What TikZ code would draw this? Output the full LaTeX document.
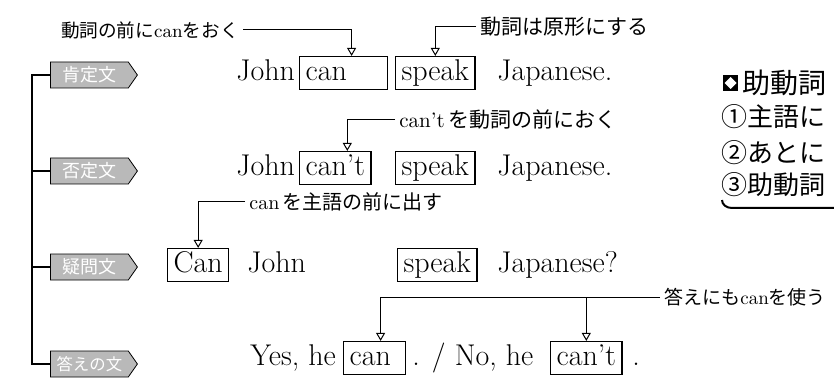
\documentclass[tikz,border=0pt]{standalone}
\usepackage{fontspec}
\newfontfamily\cjk{Noto Sans CJK JP}
\usetikzlibrary{arrows.meta,shapes.symbols}

\begin{document}
\begin{tikzpicture}[x=0.5pt, y=-0.5pt,
    caja/.style={draw, line width=0.6pt, anchor=west, inner xsep=3pt, inner ysep=1.5pt,
      text height=10.5pt, text depth=3pt, font=\fontsize{15}{18}\selectfont},
    palabra/.style={anchor=west, inner xsep=0pt, inner ysep=1.5pt,
      text height=10.5pt, text depth=3pt, font=\fontsize{15}{18}\selectfont},
    nota/.style={inner sep=2pt, font=\fontsize{10}{12}\selectfont},
    etiqueta/.style={signal, signal to=east, signal pointer angle=110, draw, fill=gray!55,
      text=white, anchor=west, minimum width=43.5pt, minimum height=13pt,
      inner xsep=2pt, inner ysep=0pt, font=\cjk\fontsize{9}{10}\selectfont},
    flecha/.style={-{Triangle[open, length=4pt, width=4.5pt]}, line width=0.5pt},
    panel/.style={anchor=west, inner sep=0pt, font=\cjk\fontsize{13}{15}\selectfont}]

    \useasboundingbox (0,0) rectangle (834,379);

    % Etiquetas de cada tipo de oracion
    \node[etiqueta] (afirm) at (50,75) {肯定文};
    \node[etiqueta] (neg) at (50,171) {否定文};
    \node[etiqueta] (preg) at (50,267) {疑問文};
    \node[etiqueta, font=\cjk\fontsize{8.2}{9}\selectfont] (resp) at (50,364) {答えの文};

    % Linea que une las etiquetas
    \coordinate (tronco) at (32,0);
    \draw[line width=0.6pt] (afirm.west) -- (afirm.west -| tronco) -- (resp.west -| tronco) -- (resp.west);
    \draw[line width=0.6pt] (neg.west) -- (neg.west -| tronco);
    \draw[line width=0.6pt] (preg.west) -- (preg.west -| tronco);

    % Oracion afirmativa
    \node[palabra] (john1) at (236,73) {John};
    \node[caja] (can1) at (299,73) {\makebox[38pt][l]{can}};
    \node[caja] (speak1) at (395,73) {speak};
    \node[palabra] (jap1) at (497,73) {Japanese.};

    % Oracion negativa
    \node[palabra] (john2) at (236,168) {John};
    \node[caja] (cant2) at (299,168) {can't};
    \node[caja] (speak2) at (395,168) {speak};
    \node[palabra] (jap2) at (497,168) {Japanese.};

    % Pregunta
    \node[caja] (can3) at (167,265) {Can};
    \node[palabra] (john3) at (247,265) {John};
    \node[caja] (speak3) at (397,265) {speak};
    \node[palabra] (jap3) at (497,265) {Japanese?};

    % Respuestas
    \node[palabra] (yes4) at (250,358) {Yes, he};
    \node[caja] (can4) at (343,358) {\makebox[25pt][l]{can}};
    \node[palabra] (no4) at (412,358) {. / No, he};
    \node[caja] (cant4) at (550,358) {can't};
    \node[palabra] (punto4) at (632,358) {.};

    % Notas con flechas
    \node[nota, anchor=east, font=\fontsize{9.3}{11}\selectfont] (nota1) at (243,30) {{\cjk 動詞の前に}can{\cjk をおく}};
    \draw[flecha] (nota1.east) -| ([xshift=4pt]can1.north);

    \node[nota, anchor=west, font=\fontsize{10.5}{12}\selectfont] (nota2) at (476,27) {\cjk 動詞は原形にする};
    \draw[flecha] (nota2.west) -| (speak1.north);

    \node[nota, anchor=west, font=\fontsize{10.5}{12}\selectfont] (nota3) at (395,120) {can't\,{\cjk を動詞の前におく}};
    \draw[flecha] (nota3.west) -| ([xshift=6pt]cant2.north);

    \node[nota, anchor=west] (nota4) at (245,202) {can\,{\cjk を主語の前に出す}};
    \draw[flecha] (nota4.west) -| (can3.north);

    \node[nota, anchor=west, font=\fontsize{9.5}{11}\selectfont] (nota5) at (660,297) {{\cjk 答えにも}can{\cjk を使う}};
    \draw[flecha] (nota5.west) -| ([xshift=3pt]can4.north);
    \draw[flecha] (nota5.west -| cant4.north) -- (cant4.north);

    % Recuadro de la derecha
    \fill (723,75) rectangle (738,91);
    \fill[white] (730.5,77) -- (736.5,83) -- (730.5,89) -- (724.5,83) -- cycle;
    \node[panel, font=\cjk\fontsize{14}{16}\selectfont] (titulo) at (742,83) {助動詞};
    \node[panel] (punto1) at (721,117) {①主語に};
    \node[panel] (punto2) at (721,153) {②あとに};
    \node[panel] (punto3) at (721,185) {③助動詞};
    \draw[line width=1pt] (722,200) to[out=-90, in=180] (732,208) -- (834,208);
\end{tikzpicture}
\end{document}
